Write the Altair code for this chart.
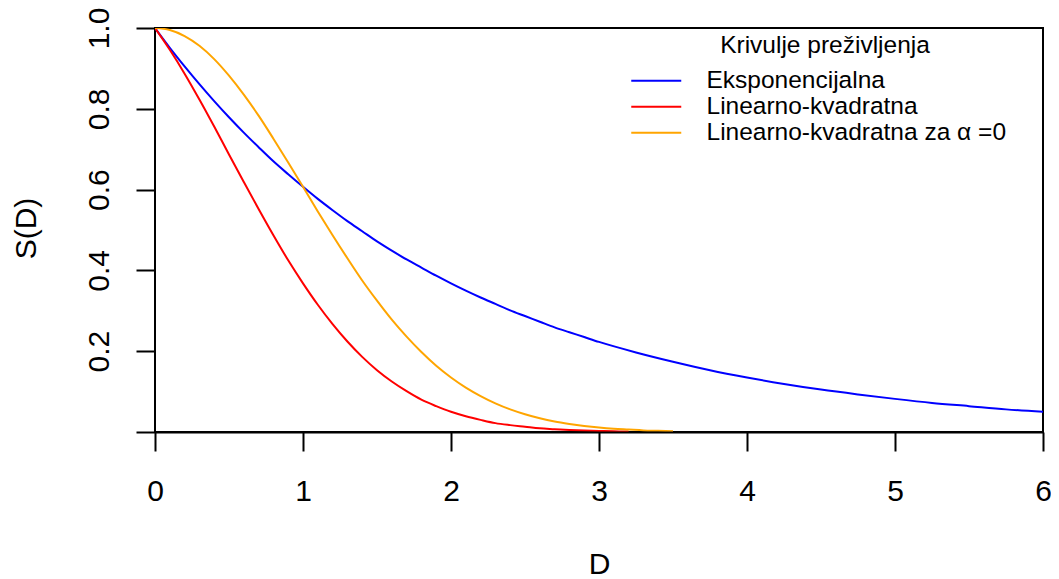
import altair as alt
import pandas as pd

# Values
exp_D = [0.0, 0.1, 0.2, 0.3, 0.4, 0.5, 0.6, 0.7, 0.8, 0.9, 1.0, 1.1, 1.2, 1.3, 1.4, 1.5,
         1.6, 1.7, 1.8, 1.9, 2.0, 2.1, 2.2, 2.3, 2.4, 2.5, 2.6, 2.7, 2.8, 2.9, 3.0,
         3.25, 3.5, 3.75, 4.0, 4.25, 4.5, 4.75, 5.0, 5.25, 5.5, 5.75, 6.0]
exp_S = [1.000, 0.951, 0.905, 0.861, 0.819, 0.779, 0.741, 0.705, 0.670, 0.638, 0.607,
         0.577, 0.549, 0.522, 0.497, 0.472, 0.449, 0.427, 0.407, 0.387, 0.368, 0.350,
         0.333, 0.317, 0.301, 0.287, 0.273, 0.259, 0.247, 0.235, 0.223,
         0.197, 0.174, 0.153, 0.135, 0.119, 0.105, 0.093, 0.082, 0.072, 0.064, 0.056, 0.050]

lq_D = [0.0, 0.1, 0.2, 0.3, 0.4, 0.5, 0.6, 0.7, 0.8, 0.9, 1.0, 1.1, 1.2, 1.3, 1.4, 1.5,
        1.6, 1.7, 1.8, 1.9, 2.0, 2.1, 2.2, 2.3, 2.4, 2.5, 2.6, 2.7, 2.8, 2.9, 3.0, 3.1, 3.2]
lq_S = [1.000, 0.946, 0.887, 0.823, 0.756, 0.687, 0.619, 0.552, 0.487, 0.425, 0.368,
        0.315, 0.267, 0.224, 0.186, 0.153, 0.125, 0.101, 0.080, 0.064, 0.050, 0.039,
        0.030, 0.022, 0.017, 0.013, 0.009, 0.007, 0.005, 0.0035, 0.0025, 0.0017, 0.0012]

lq0_D = [0.0, 0.1, 0.2, 0.3, 0.4, 0.5, 0.6, 0.7, 0.8, 0.9, 1.0, 1.1, 1.2, 1.3, 1.4, 1.5,
         1.6, 1.7, 1.8, 1.9, 2.0, 2.1, 2.2, 2.3, 2.4, 2.5, 2.6, 2.7, 2.8, 2.9, 3.0,
         3.1, 3.2, 3.3, 3.4, 3.5]
lq0_S = [1.000, 0.995, 0.980, 0.956, 0.923, 0.882, 0.835, 0.783, 0.726, 0.667, 0.607,
         0.546, 0.487, 0.430, 0.375, 0.325, 0.278, 0.236, 0.198, 0.164, 0.135, 0.110,
         0.089, 0.071, 0.056, 0.044, 0.034, 0.026, 0.020, 0.015, 0.011,
         0.008, 0.006, 0.004, 0.003, 0.002]

series_names = ["Eksponencijalna", "Linearno-kvadratna", "Linearno-kvadratna za α =0"]
series_colors = ["#0000FF", "#FF0000", "#FFA500"]
x_ticks = [0, 1, 2, 3, 4, 5, 6]
y_ticks = [0.0, 0.2, 0.4, 0.6, 0.8, 1.0]

rows = []
for name, xs, ys in zip(series_names, [exp_D, lq_D, lq0_D], [exp_S, lq_S, lq0_S]):
    for i, (d, s) in enumerate(zip(xs, ys)):
        rows.append({"D": d, "S": s, "krivulja": name, "ord": i})
df = pd.DataFrame(rows)

FONT = "Liberation Sans"

chart = alt.Chart(df).mark_line(strokeWidth=2, clip=True, interpolate="monotone").encode(
    x=alt.X("D:Q",
            scale=alt.Scale(domain=[0, 6], nice=False, zero=False),
            axis=alt.Axis(values=x_ticks, title="D", grid=False, domain=True,
                          domainColor="black", domainWidth=2, zindex=1,
                          tickColor="black", tickWidth=2, tickSize=19,
                          labelFont=FONT, labelFontSize=30, labelColor="black",
                          labelBaseline="alphabetic", labelPadding=49,
                          labelFlush=False, labelOverlap=False,
                          titleFont=FONT, titleFontSize=30, titleFontWeight="normal",
                          titleColor="black", titleBaseline="alphabetic", titleY=141)),
    y=alt.Y("S:Q",
            scale=alt.Scale(domain=[0, 1], nice=False, zero=False),
            axis=alt.Axis(values=y_ticks, title="S(D)", grid=False, domain=False,
                          tickColor="black", tickWidth=2, tickSize=19,
                          labelExpr="datum.value == 0 ? '' : format(datum.value, '.1f')",
                          labelFont=FONT, labelFontSize=30, labelColor="black",
                          labelAngle=270, labelAlign="center", labelBaseline="alphabetic",
                          labelPadding=28, labelFlush=False, labelOverlap=False,
                          titleFont=FONT, titleFontSize=30, titleFontWeight="normal",
                          titleColor="black", titleAngle=270, titleAlign="center",
                          titleBaseline="alphabetic", titleX=-120, titleY=200)),
    color=alt.Color("krivulja:N",
                    scale=alt.Scale(domain=series_names, range=series_colors),
                    legend=alt.Legend(title="Krivulje preživljenja", orient="none",
                                      legendX=489, legendY=6,
                                      symbolType="M-5,0H5", symbolSize=100,
                                      symbolStrokeWidth=2, symbolOffset=0,
                                      labelOffset=38, rowPadding=1,
                                      labelFont=FONT, labelFontSize=24.5, labelColor="black",
                                      labelLimit=600,
                                      titleFont=FONT, titleFontSize=24.5,
                                      titleFontWeight="normal", titleColor="black",
                                      titleAnchor="middle", titlePadding=10,
                                      titleLimit=600, padding=0)),
    order="ord:Q",
).properties(
    width=888, height=404,
    autosize=alt.AutoSizeParams(type="none"),
    padding={"left": 147, "top": 20, "right": 8, "bottom": 146},
).configure(
    background="white"
).configure_view(
    stroke="black", strokeWidth=2
)

chart.save("out.html", embed_options={"renderer": "svg", "actions": False})
